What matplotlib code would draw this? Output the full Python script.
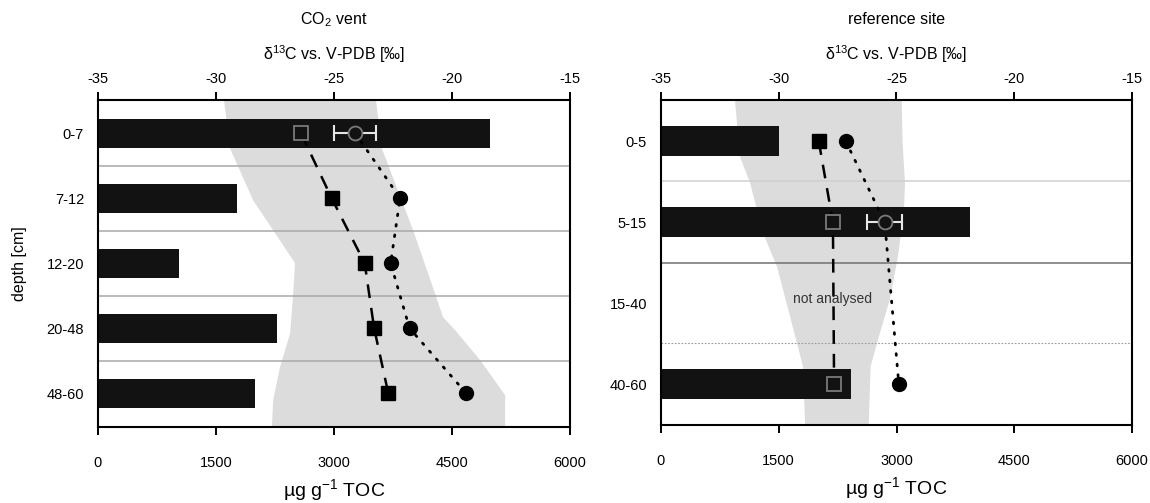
import matplotlib
matplotlib.use("Agg")
import matplotlib.pyplot as plt
from matplotlib.patches import Polygon
import numpy as np

plt.rcParams['font.family'] = ['Liberation Sans', 'DejaVu Sans']
plt.rcParams['mathtext.fontset'] = 'custom'
plt.rcParams['mathtext.rm'] = 'Liberation Sans'
plt.rcParams['mathtext.it'] = 'Liberation Sans:italic'

# ---------------- data ----------------
toc_ticks = [0, 1500, 3000, 4500, 6000]
d13c_ticks = [-35, -30, -25, -20, -15]

# CO2 vent
vent_depths = ['0-7', '7-12', '12-20', '20-48', '48-60']
vent_toc = [4980, 1770, 1030, 2270, 2000]
vent_sq = [-26.4, -25.1, -23.7, -23.3, -22.7]
vent_sq_open = [True, False, False, False, False]
vent_ci = [-24.1, -22.2, -22.6, -21.8, -19.4]
vent_ci_open = [True, False, False, False, False]
vent_ci_err = [0.9, 0, 0, 0, 0]
vent_band_left_y = [-0.51, 0.23, 1.03, 1.65, 2.0, 2.52, 3.08, 3.60, 4.11, 4.52]
vent_band_left_x = [-29.66, -29.41, -28.43, -27.29, -26.65, -26.74, -26.86, -27.29, -27.58, -27.63]
vent_band_right_y = [-0.51, 0.23, 1.49, 2.37, 2.83, 3.03, 3.49, 4.03, 4.52]
vent_band_right_x = [-23.22, -22.98, -21.65, -20.81, -20.38, -19.87, -18.81, -17.75, -17.75]

# reference site
ref_depths = ['0-5', '5-15', '15-40', '40-60']
ref_toc = [1500, 3930, np.nan, 2420]
ref_sq = [-28.3, -27.7, np.nan, -27.65]
ref_sq_open = [False, True, False, True]
ref_ci = [-27.15, -25.5, np.nan, -24.9]
ref_ci_open = [False, True, False, False]
ref_ci_err = [0, 0.75, 0, 0]
ref_band_left_y = [-0.51, 0.19, 0.51, 1.13, 1.55, 2.16, 2.78, 3.50]
ref_band_left_x = [-31.86, -31.65, -31.22, -30.67, -30.07, -29.52, -28.97, -28.88]
ref_band_right_y = [-0.51, 0.02, 0.51, 0.84, 1.42, 1.95, 2.45, 2.78, 3.50]
ref_band_right_x = [-24.78, -24.74, -24.64, -24.68, -24.94, -25.28, -25.79, -26.10, -26.18]

# ---------------- figure ----------------
W, H = 1150, 503
fig = plt.figure(figsize=(W / 100, H / 100), dpi=100)

BAR = '#121212'
BAND = '#dcdcdc'
FS = 10.5


def px_axes(x0, x1, ytop, ybot):
    return [x0 / W, (H - ybot) / H, (x1 - x0) / W, (ybot - ytop) / H]


def panel(pos, depths, toc, sq, sq_open, ci, ci_open, ci_err,
          bl_y, bl_x, br_y, br_x, ylim, bar_h, title, ylabel=None):
    ax = fig.add_axes(pos)
    axd = ax.twiny()
    n = len(depths)
    y = np.arange(n)

    ax.set_xlim(0, 6000)
    ax.set_ylim(*ylim)
    axd.set_xlim(-35, -15)
    axd.set_ylim(*ylim)

    # gray band (in d13C units)
    verts = list(zip(bl_x, bl_y)) + list(zip(br_x, br_y))[::-1]
    ax.add_patch(Polygon(verts, closed=True, facecolor=BAND, edgecolor='none',
                         transform=axd.transData, zorder=0))

    # bars
    toc_arr = np.array(toc, dtype=float)
    ok = ~np.isnan(toc_arr)
    ax.barh(y[ok], toc_arr[ok], height=bar_h, color=BAR, zorder=2)

    # lines
    sq_arr = np.array(sq, dtype=float)
    ci_arr = np.array(ci, dtype=float)
    m = ~np.isnan(sq_arr)
    axd.plot(sq_arr[m], y[m], color='black', lw=1.8, ls=(0, (5.5, 4)), zorder=3)
    m2 = ~np.isnan(ci_arr)
    axd.plot(ci_arr[m2], y[m2], color='black', lw=2.0, ls=(0, (0.6, 3.2)),
             dash_capstyle='round', zorder=3)

    # markers
    for i in range(n):
        if not np.isnan(sq_arr[i]):
            if sq_open[i]:
                axd.plot(sq_arr[i], y[i], marker='s', ms=9.5, mfc=BAR, mec='#7a7a7a',
                         mew=1.3, zorder=5, ls='none')
            else:
                axd.plot(sq_arr[i], y[i], marker='s', ms=9.5, mfc='black', mec='black',
                         zorder=5, ls='none')
        if not np.isnan(ci_arr[i]):
            if ci_err[i] > 0:
                axd.errorbar(ci_arr[i], y[i], xerr=ci_err[i], fmt='none', ecolor='#e6e6e6',
                             elinewidth=1.5, capsize=5.5, capthick=1.5, zorder=4)
            if ci_open[i]:
                axd.plot(ci_arr[i], y[i], marker='o', ms=10, mfc=BAR, mec='#7a7a7a',
                         mew=1.3, zorder=5, ls='none')
            else:
                axd.plot(ci_arr[i], y[i], marker='o', ms=10, mfc='black', mec='black',
                         zorder=5, ls='none')

    # ticks
    ax.set_xticks(toc_ticks)
    ax.set_xticklabels([str(t) for t in toc_ticks], fontsize=FS)
    ax.set_yticks(y)
    ax.set_yticklabels(depths, fontsize=FS)
    ax.tick_params(axis='y', length=0, pad=10)
    ax.tick_params(axis='x', direction='out', length=6, width=1.4, pad=15)
    axd.set_xticks(d13c_ticks)
    axd.set_xticklabels([str(t) for t in d13c_ticks], fontsize=FS)
    axd.tick_params(axis='x', direction='out', length=6, width=1.4, pad=4)
    for s in ax.spines.values():
        s.set_linewidth(1.5)
    for s in axd.spines.values():
        s.set_visible(False)

    ax.set_xlabel(r'µg g$^{\mathregular{-1}}$ TOC', fontsize=14, labelpad=5)
    axd.set_xlabel(r'δ$^{\mathregular{13}}$C vs. V-PDB [‰]', fontsize=11.5, labelpad=9)
    if ylabel:
        ax.set_ylabel(ylabel, fontsize=11.5, labelpad=14)
    cx = pos[0] + pos[2] / 2
    fig.text(cx, 1 - 20 / H, title, ha='center', va='center', fontsize=11.5)
    return ax, axd


ax1, axd1 = panel(px_axes(98, 570, 100, 427), vent_depths, vent_toc, vent_sq, vent_sq_open,
                  vent_ci, vent_ci_open, vent_ci_err,
                  vent_band_left_y, vent_band_left_x, vent_band_right_y, vent_band_right_x,
                  (4.52, -0.51), 0.45, r'CO$_{\mathregular{2}}$ vent', ylabel='depth [cm]')
for yy in [0.5, 1.5, 2.5, 3.5]:
    ax1.axhline(yy, color='#a8a8a8', lw=1.1, zorder=1)

ax2, axd2 = panel(px_axes(661, 1132, 100, 425), ref_depths, ref_toc, ref_sq, ref_sq_open,
                  ref_ci, ref_ci_open, ref_ci_err,
                  ref_band_left_y, ref_band_left_x, ref_band_right_y, ref_band_right_x,
                  (3.50, -0.51), 0.37, 'reference site')
ax2.axhline(0.485, color='#cfcfcf', lw=1.1, zorder=1)
ax2.axhline(1.5, color='#707070', lw=1.1, zorder=1)
ax2.axhline(2.49, color='#9a9a9a', lw=0.8, ls=(0, (1.5, 1.5)), zorder=1)
axd2.text(-27.7, 1.95, 'not analysed', ha='center', va='center', fontsize=10,
          color='#333333', zorder=6)

fig.savefig('out.png', dpi=100)
